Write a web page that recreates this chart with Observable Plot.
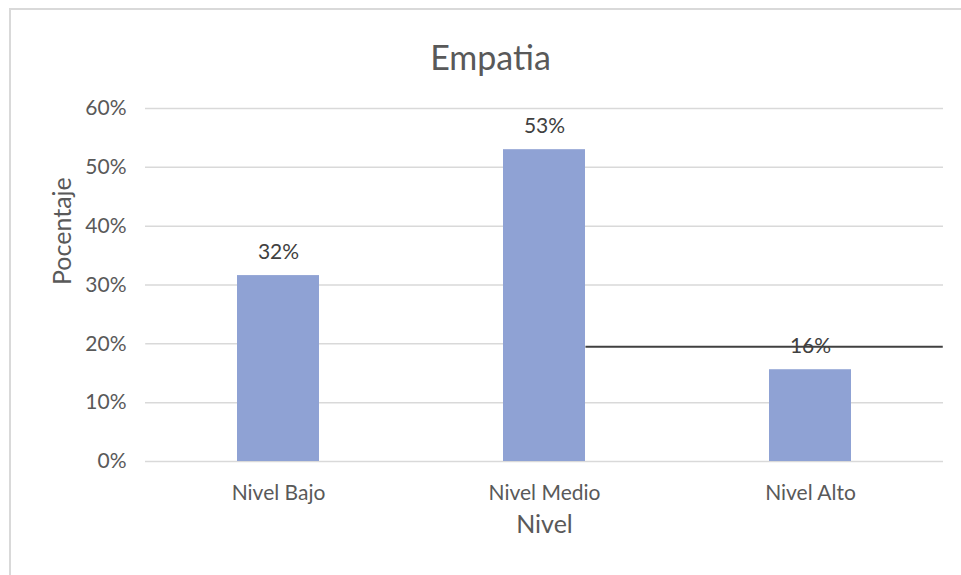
<!DOCTYPE html>
<html>
<head>
<meta charset="utf-8">
<script src="https://cdn.jsdelivr.net/npm/d3@7"></script>
<script src="https://cdn.jsdelivr.net/npm/@observablehq/plot@0.6"></script>
<style>
  html, body { margin: 0; padding: 0; background: #fff; }
  #wrap { position: relative; width: 961px; height: 575px; overflow: hidden; font-family: Lato, "Open Sans", sans-serif; }
  #frame { position: absolute; left: 9px; top: 8px; width: 970px; height: 600px; border-left: 2px solid #d9d9d9; border-top: 2px solid #d9d9d9; pointer-events: none; }
  #title { height: 90px; box-sizing: border-box; padding-top: 38px; padding-left: 20px; text-align: center; font-size: 34px; line-height: 38px; color: #595959; }
  #chart svg { display: block; }
</style>
</head>
<body>
<div id="wrap">
  <div id="frame"></div>
  <div id="title">Empatia</div>
  <div id="chart"></div>
</div>
<script>
const categories = ["Nivel Bajo", "Nivel Medio", "Nivel Alto"];
const values = [0.316, 0.53, 0.156];
const yTicks = [0, 0.1, 0.2, 0.3, 0.4, 0.5, 0.6];
const xTitle = "Nivel";
const yTitle = "Pocentaje";
// stray dark horizontal line in the reference: from the right edge of one bar to the plot edge;
// the light gridline it replaces stops at that bar
const strayLineY = [0.195];
const strayGrid = [0.2];
const strayLineFrom = ["Nivel Medio"];
const strayLineTo = ["Nivel Alto"];

const data = categories.map((c, i) => ({nivel: c, pct: values[i]}));
const strayData = strayLineY.map((v, i) => ({y: v, from: strayLineFrom[i], to: strayLineTo[i]}));
const cutGridData = strayGrid.map((v, i) => ({y: v, from: categories[0], to: strayLineFrom[i]}));
const fullGrid = yTicks.filter(t => !strayGrid.includes(t));

const W = 961, H = 485, mL = 145, mR = 18, mT = 18, mB = 114;
const pInner = 0.69, pOuter = 0.345;
const step = (W - mL - mR) / (categories.length - pInner + 2 * pOuter);
const bandwidth = step * (1 - pInner);
const pct = d3.format(".0%");

const chart = Plot.plot({
  width: W, height: H,
  marginLeft: mL, marginRight: mR, marginTop: mT, marginBottom: mB,
  style: {fontFamily: "Lato, 'Open Sans', sans-serif", fontSize: "21px", color: "#595959", background: "transparent", overflow: "visible"},
  x: {domain: categories, paddingInner: pInner, paddingOuter: pOuter, label: null},
  y: {domain: [0, 0.6], label: null},
  marks: [
    Plot.gridY(fullGrid, {stroke: "#d9d9d9", strokeOpacity: 1, strokeWidth: 1.5}),
    Plot.ruleY(cutGridData, {y: "y", x1: "from", x2: "to", insetLeft: -pOuter * step, stroke: "#d9d9d9", strokeWidth: 1.5}),
    Plot.barY(data, {x: "nivel", y: "pct", fill: "#8fa2d4"}),
    Plot.text(data, {x: "nivel", y: "pct", text: d => pct(d.pct), dy: -23, fill: "#404040", fontSize: 21}),
    Plot.ruleY(strayData, {y: "y", x1: "from", x2: "to", insetLeft: bandwidth, insetRight: -pOuter * step, stroke: "#404040", strokeWidth: 2}),
    Plot.axisY(yTicks, {tickFormat: pct, tickSize: 0, tickPadding: 19, fill: "#595959", fontSize: 21, label: null}),
    Plot.axisX({tickSize: 0, tickPadding: 24, fill: "#595959", fontSize: 21, label: null}),
    Plot.text([xTitle], {frameAnchor: "bottom", dy: 71, fill: "#595959", fontSize: 25}),
    Plot.text([yTitle], {frameAnchor: "left", dx: -83, rotate: -90, fill: "#595959", fontSize: 25})
  ]
});
document.getElementById("chart").appendChild(chart);
</script>
</body>
</html>
